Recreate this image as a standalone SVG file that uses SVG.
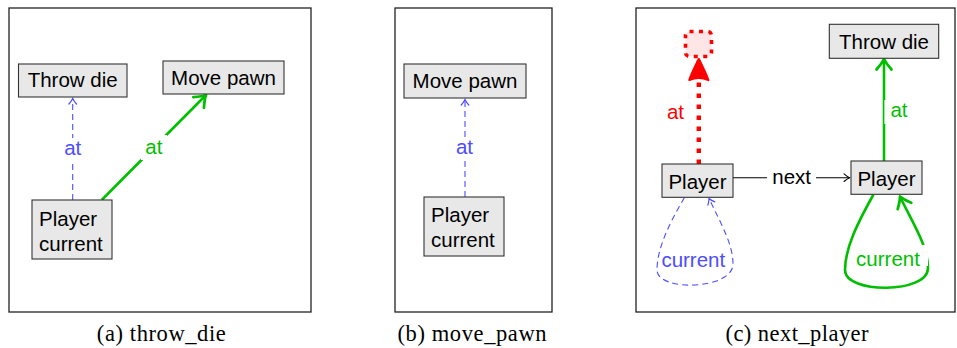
<svg xmlns="http://www.w3.org/2000/svg" width="957" height="348" viewBox="0 0 957 348">
  <style>
    .frame { fill: #ffffff; stroke: #222222; stroke-width: 1.3; }
    .node rect { fill: #e8e8e8; stroke: #333333; stroke-width: 1.1; }
    .node text, .lbl { font-family: "Liberation Sans", Arial, sans-serif; font-size: 20.5px; }
    .node text { fill: #000000; }
    .caption { font-family: "Liberation Serif", "Times New Roman", serif; font-size: 22.5px; fill: #000000; text-anchor: middle; }
    .mid { text-anchor: middle; }
    .bg { fill: #ffffff; stroke: none; }
    .blue { fill: none; stroke: #4d4dff; stroke-width: 1.1; stroke-dasharray: 6 4; }
    .green { fill: none; stroke: #00bf00; stroke-width: 2.6; }
    .red { fill: none; stroke: #ff0000; stroke-width: 4.4; stroke-dasharray: 4.5 6.5; }
    .black { fill: none; stroke: #000000; stroke-width: 1.1; }
    .tb { fill: #4d4dff; }
    .tg { fill: #00bf00; }
    .tr { fill: #ff0000; }
    .tk { fill: #000000; }
  </style>
  <defs>
    <marker id="ah-blue" markerUnits="userSpaceOnUse" viewBox="-8 -6 10 12" markerWidth="10" markerHeight="12" refX="0" refY="0" orient="auto">
      <path d="M-5.5,-3.8 Q-2,-0.8 0,0 Q-2,0.8 -5.5,3.8" fill="none" stroke="#4d4dff" stroke-width="1.2" stroke-linecap="round"/>
    </marker>
    <marker id="ah-black" markerUnits="userSpaceOnUse" viewBox="-8 -6 10 12" markerWidth="10" markerHeight="12" refX="0" refY="0" orient="auto">
      <path d="M-5.5,-3.8 Q-2,-0.8 0,0 Q-2,0.8 -5.5,3.8" fill="none" stroke="#000000" stroke-width="1.1" stroke-linecap="round"/>
    </marker>
    <marker id="ah-green" markerUnits="userSpaceOnUse" viewBox="-13 -10 15 20" markerWidth="15" markerHeight="20" refX="0" refY="0" orient="auto">
      <path d="M-10.5,-7.5 Q-3.5,-1.5 0,0 Q-3.5,1.5 -10.5,7.5" fill="none" stroke="#00bf00" stroke-width="2.8" stroke-linecap="round" stroke-linejoin="round"/>
    </marker>
    <marker id="ah-red" markerUnits="userSpaceOnUse" viewBox="-26 -13 28 26" markerWidth="28" markerHeight="26" refX="0" refY="0" orient="auto">
      <path d="M0,0 C-6,-3 -15,-7.5 -21,-9.5 Q-17,0 -21,9.5 C-15,7.5 -6,3 0,0 Z" fill="#ff0000" stroke="#ff0000" stroke-width="2.2" stroke-linejoin="round"/>
    </marker>
  </defs>

  <!-- panel frames -->
  <rect class="frame" x="9" y="8" width="302" height="304"/>
  <rect class="frame" x="395" y="8" width="157" height="304"/>
  <rect class="frame" x="636" y="8" width="319" height="304"/>

  <!-- connectors -->
  <g id="connectors">
    <!-- (a) -->
    <path class="blue" d="M72.7,200 L72.7,98.5" marker-end="url(#ah-blue)"/>
    <path class="green" d="M101.7,200 L206,95" marker-end="url(#ah-green)"/>
    <rect class="bg" x="62" y="138" width="22" height="22"/>
    <text class="lbl tb mid" x="72.7" y="155">at</text>
    <rect class="bg" x="141" y="135" width="26" height="25"/>
    <text class="lbl tg mid" x="153.8" y="154.3">at</text>

    <!-- (b) -->
    <path class="blue" d="M465,197 L465,99.5" marker-end="url(#ah-blue)"/>
    <rect class="bg" x="454" y="138" width="22" height="22"/>
    <text class="lbl tb mid" x="464.5" y="154.3">at</text>

    <!-- (c) -->
    <path class="red" d="M698.8,164 L698.8,59" marker-end="url(#ah-red)"/>
    <text class="lbl tr mid" x="675.5" y="119.3">at</text>

    <path class="black" d="M733,177.7 L849.5,177.7" marker-end="url(#ah-black)"/>
    <rect class="bg" x="767" y="166" width="49" height="22"/>
    <text class="lbl tk mid" x="791.7" y="183.5">next</text>

    <path class="green" d="M884,161 L884,59" marker-end="url(#ah-green)"/>
    <rect class="bg" x="884.4" y="100" width="26" height="24"/>
    <text class="lbl tg mid" x="899" y="116.7">at</text>

    <path class="blue" d="M684.5,197.5 C670,222 657,248 657,270 C657,292 733,290 733,264 C733,244 721,224 709,198.5" marker-end="url(#ah-blue)"/>
    <text class="lbl tb mid" x="693.3" y="266.7">current</text>

    <path class="green" d="M873.5,194.5 C858,222 845,248 845,270 C845,294 928,294 928,268 C928,246 913,224 900,196.5" marker-end="url(#ah-green)"/>
    <rect class="bg" x="853" y="245" width="75" height="21"/>
    <text class="lbl tg mid" x="888" y="266">current</text>
  </g>

  <!-- (a) nodes -->
  <g id="a-throw-die" class="node">
    <rect x="18.5" y="64" width="108.5" height="33"/>
    <text class="mid" x="72.7" y="87.3">Throw die</text>
  </g>
  <g id="a-move-pawn" class="node">
    <rect x="163" y="61" width="121" height="33"/>
    <text class="mid" x="223.5" y="85">Move pawn</text>
  </g>
  <g id="a-player" class="node">
    <rect x="32" y="200" width="80" height="59"/>
    <text x="39" y="225.5">Player</text>
    <text x="39" y="250.7">current</text>
  </g>

  <!-- (b) nodes -->
  <g id="b-move-pawn" class="node">
    <rect x="404" y="64" width="122" height="34"/>
    <text class="mid" x="465" y="88.3">Move pawn</text>
  </g>
  <g id="b-player" class="node">
    <rect x="424" y="197" width="80" height="59"/>
    <text x="431" y="221.7">Player</text>
    <text x="431" y="246.5">current</text>
  </g>

  <!-- (c) nodes -->
  <g id="c-missing">
    <rect x="685.5" y="31.5" width="26" height="25" rx="4" fill="#ffe6e6" stroke="#ff0000" stroke-width="3.6" stroke-dasharray="4 5.5"/>
  </g>
  <g id="c-throw-die" class="node">
    <rect x="829.3" y="24.3" width="109.4" height="34"/>
    <text class="mid" x="884" y="49.3">Throw die</text>
  </g>
  <g id="c-player-1" class="node">
    <rect x="662" y="164" width="71" height="33.3"/>
    <text class="mid" x="697.5" y="189">Player</text>
  </g>
  <g id="c-player-2" class="node">
    <rect x="851" y="161" width="71" height="33.3"/>
    <text class="mid" x="886.5" y="185.5">Player</text>
  </g>

  <!-- captions -->
  <text class="caption" x="161.3" y="340.5" textLength="129" lengthAdjust="spacing">(a) throw_die</text>
  <text class="caption" x="472" y="340.5" textLength="149" lengthAdjust="spacing">(b) move_pawn</text>
  <text class="caption" x="797" y="340.5" textLength="143" lengthAdjust="spacing">(c) next_player</text>
</svg>
